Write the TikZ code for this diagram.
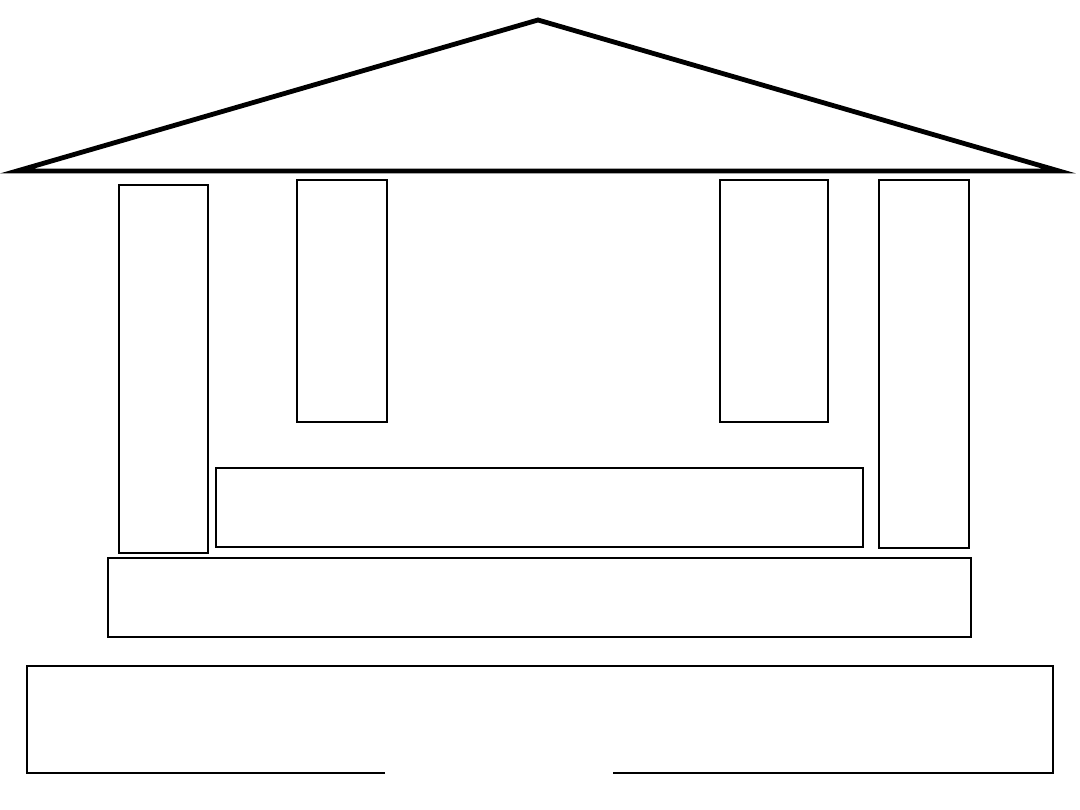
\documentclass[tikz,border=0pt]{standalone}
\begin{document}
\begin{tikzpicture}[x=1pt,y=-1pt,
  thinbox/.style={draw=black,line width=1.5pt},
  midbox/.style={draw=black,line width=2pt},
  thickbox/.style={draw=black,line width=2.6pt},
  roof/.style={draw=black,line width=4.8pt,line join=miter}]
\useasboundingbox[fill=white] (0,0) rectangle (1080,810);
% roof
\draw[roof] (17,171) -- (538,20) -- (1059,171) -- cycle;
% pillars and windows
\draw[thinbox] (119,185) rectangle (208,553);
\draw[midbox] (297,180) rectangle (387,422);
\draw[midbox] (720,180) rectangle (828,422);
\draw[thickbox] (879,180) rectangle (969,548);
% middle band
\draw[midbox] (216,468) rectangle (863,547);
% base
\draw[midbox] (108,558) rectangle (971,637);
% bottom box with gap
\coordinate (g1) at (385,773);
\coordinate (g2) at (613,773);
\draw[thickbox] (g1) -- (27,773) -- (27,666) -- (1053,666) -- (1053,773) -- (g2);
\end{tikzpicture}
\end{document}
